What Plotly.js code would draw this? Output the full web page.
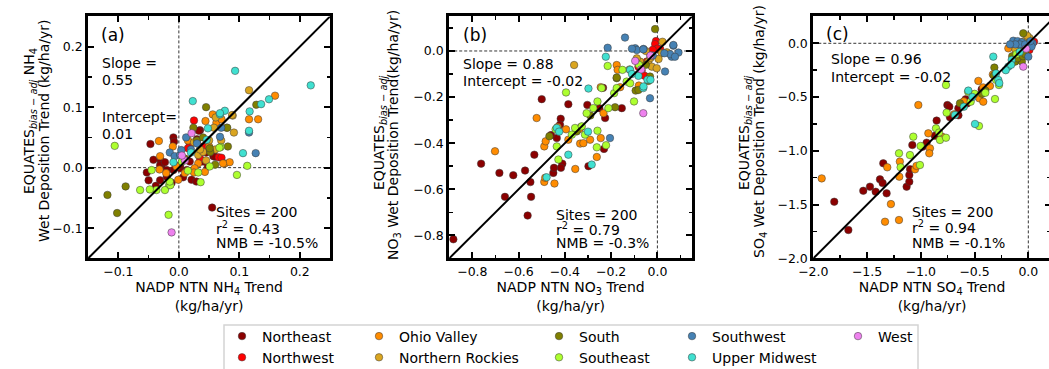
<!DOCTYPE html>
<html><head><meta charset="utf-8">
<script src="https://cdn.plot.ly/plotly-3.0.1.min.js"></script>
<style>html,body{margin:0;padding:0;overflow:hidden;background:#fff}#chart{width:1060px;height:369px}</style>
</head><body><div id="chart"></div>
<script>
// ---------- categories ----------
const regions = ['Northeast','Northwest','Ohio Valley','Northern Rockies','South','Southeast','Southwest','Upper Midwest','West'];
const regionColors = ['#8B0000','#FF0000','#FF8C00','#DAA520','#808000','#ADFF2F','#4682B4','#40E0D0','#EE82EE'];
const legendColumns = ['legend','legend','legend2','legend2','legend3','legend3','legend4','legend4','legend5'];

// ---------- (a) NH4: [NADP NTN trend, EQUATES trend] ----------
const nh4Northeast = [[-0.047,0.039],[-0.009,0.050],[-0.008,0.043],[-0.053,-0.008],[-0.050,-0.021],[-0.031,-0.021],[-0.020,-0.015],[-0.030,0.012],[-0.029,0.002],[-0.009,-0.004],[0.002,-0.001],[0.021,-0.020],[0.029,-0.023],[0.007,-0.016],[0.035,0.062],[0.033,0.061],[0.030,0.047],[0.057,0.019],[0.060,0.018],[0.055,-0.066],[-0.042,0.013],[-0.031,0.004],[-0.023,0.009],[0.018,0.010],[0.013,-0.004],[0.002,0.004],[-0.020,-0.004],[0.040,0.010],[0.045,0.025],[-0.012,-0.025],[0.048,0.002],[-0.038,-0.030],[0.020,0.040]];
const nh4Northwest = [[0.025,0.078],[0.066,0.017],[0.018,0.040],[0.015,0.032],[0.0705,0.0165],[0.040,0.035],[0.035,0.015]];
const nh4OhioValley = [[-0.033,0.044],[-0.031,0.019],[-0.004,0.002],[-0.021,-0.009],[0.010,-0.009],[0.044,0.077],[0.062,0.074],[0.056,0.088],[0.0705,0.080],[0.116,0.080],[0.131,0.080],[0.159,0.119],[0.076,0.007],[0.084,0.009],[0.073,0.007],[0.032,0.007],[0.026,-0.001],[0.043,-0.007],[-0.001,-0.020],[0.050,0.035],[-0.010,0.035],[0.015,0.045],[0.025,-0.008],[-0.032,-0.003]];
const nh4NorthernRockies = [[0.116,0.128],[0.061,0.083],[0.089,0.086],[0.091,0.058],[0.058,0.066],[0.079,0.066],[0.032,0.021],[0.040,0.026],[0.050,0.045],[0.035,0.030],[0.060,0.030],[0.025,0.042],[0.045,0.012],[0.070,0.045],[0.088,0.087]];
const nh4South = [[-0.118,-0.045],[-0.088,-0.031],[-0.102,-0.075],[0.128,0.104],[0.045,0.100],[0.024,0.066],[0.080,0.066],[0.081,0.035],[0.052,0.026],[0.051,0.032],[0.030,0.045],[0.010,0.015],[0.060,0.005],[0.040,0.050]];
const nh4Southeast = [[-0.106,0.036],[0.113,0.003],[0.096,-0.012],[-0.017,-0.078],[0.069,0.034],[0.051,0.002],[0.036,-0.024],[-0.016,-0.029],[-0.023,-0.037],[-0.037,-0.037],[-0.048,-0.036],[-0.045,-0.004],[-0.064,-0.037],[0.032,-0.008],[-0.014,-0.029],[-0.015,-0.023],[0.005,0.010],[0.067,0.033],[0.015,-0.005]];
const nh4Southwest = [[0.127,0.024],[0.116,0.058],[0.012,0.050],[-0.015,0.025],[-0.007,0.019],[0.070,0.066],[0.068,0.051],[0.002,0.021],[0.004,0.029],[0.030,0.040],[0.020,0.030]];
const nh4UpperMidwest = [[0.093,0.160],[0.218,0.136],[0.149,0.113],[0.136,0.105],[0.117,0.093],[0.116,0.061],[0.106,0.024],[0.023,0.110],[0.068,0.088],[0.076,0.094],[0.048,0.065],[-0.009,0.009],[0.046,0.046],[0.020,0.025],[0.068,0.090]];
const nh4West = [[-0.012,-0.107],[0.021,0.057],[0.010,0.012],[0.005,0.020]];

// ---------- (b) NO3 ----------
const no3Northeast = [[-0.882,-0.817],[-0.762,-0.489],[-0.683,-0.529],[-0.659,-0.633],[-0.623,-0.539],[-0.572,-0.519],[-0.561,-0.714],[-0.549,-0.569],[-0.546,-0.633],[-0.532,-0.450],[-0.500,-0.209],[-0.450,-0.529],[-0.447,-0.507],[-0.435,-0.378],[-0.411,-0.489],[-0.417,-0.507],[-0.418,-0.294],[-0.421,-0.320],[-0.385,-0.231],[-0.303,-0.234],[-0.298,-0.500],[-0.251,-0.248],[-0.231,-0.425],[-0.226,-0.291],[-0.154,-0.248],[-0.235,-0.160],[-0.460,-0.365],[-0.330,-0.330]];
const no3Northwest = [[-0.006,0.043],[0.012,0.009],[-0.082,-0.068],[-0.068,-0.086],[-0.056,-0.107],[-0.046,-0.046],[-0.010,0.030],[0.000,0.010],[-0.020,0.005]];
const no3OhioValley = [[-0.702,-0.435],[-0.522,-0.291],[-0.489,-0.568],[-0.485,-0.550],[-0.489,-0.414],[-0.483,-0.392],[-0.445,-0.575],[-0.431,-0.330],[-0.385,-0.385],[-0.395,-0.340],[-0.355,-0.512],[-0.337,-0.339],[-0.334,-0.402],[-0.320,-0.400],[-0.291,-0.385],[-0.262,-0.460],[-0.245,-0.378],[-0.233,-0.270],[-0.245,-0.157],[-0.161,-0.157],[-0.176,-0.061],[-0.172,-0.082],[-0.080,-0.150],[-0.030,-0.020]];
const no3NorthernRockies = [[-0.360,-0.061],[0.022,0.040],[-0.075,-0.046],[-0.039,-0.046],[-0.024,-0.068],[-0.003,-0.075],[-0.089,-0.032],[0.019,-0.010],[0.041,-0.006],[-0.120,-0.080],[-0.030,-0.030],[-0.050,0.000],[0.005,-0.035]];
const no3South = [[-0.010,0.095],[-0.467,-0.370],[-0.349,-0.349],[-0.183,-0.244],[-0.176,-0.118],[-0.094,-0.172],[-0.176,-0.115],[-0.032,-0.111],[-0.039,-0.130],[-0.082,-0.169],[-0.290,-0.280],[-0.050,-0.060]];
const no3Southeast = [[-0.435,-0.414],[-0.428,-0.471],[-0.395,-0.180],[-0.370,-0.363],[-0.356,-0.334],[-0.327,-0.327],[-0.313,-0.363],[-0.306,-0.270],[-0.277,-0.248],[-0.259,-0.219],[-0.259,-0.346],[-0.262,-0.418],[-0.222,-0.409],[-0.241,-0.161],[-0.212,-0.248],[-0.187,-0.183],[-0.176,-0.161],[-0.215,-0.065],[-0.151,-0.082],[-0.133,-0.133],[-0.118,-0.140],[-0.101,-0.219],[-0.440,-0.340],[-0.080,-0.060]];
const no3Southwest = [[-0.140,0.058],[-0.215,0.014],[0.069,0.023],[-0.096,0.012],[-0.060,0.009],[0.062,-0.025],[0.033,-0.089],[-0.032,-0.205],[-0.205,-0.378],[0.091,-0.007],[-0.089,0.004],[-0.061,0.007],[0.055,-0.014],[0.076,-0.025],[0.069,0.026],[0.030,-0.010],[-0.110,0.010],[-0.020,-0.020]];
const no3UpperMidwest = [[-0.479,-0.548],[-0.435,-0.334],[-0.425,-0.350],[-0.385,-0.450],[-0.284,-0.493],[-0.298,-0.163],[-0.223,-0.025],[-0.061,-0.161],[-0.082,-0.108],[-0.043,-0.125],[-0.030,-0.125],[-0.118,-0.082],[-0.060,-0.154],[-0.110,-0.100],[-0.300,-0.350]];
const no3West = [[-0.061,-0.270],[-0.096,-0.043],[-0.070,-0.080],[-0.030,-0.020]];

// ---------- (c) SO4 ----------
const so4Northeast = [[-1.805,-1.473],[-1.674,-1.736],[-1.535,-1.371],[-1.473,-1.333],[-1.420,-1.380],[-1.380,-1.265],[-1.355,-1.300],[-1.318,-1.395],[-1.349,-1.116],[-1.132,-1.333],[-1.107,-1.287],[-1.107,-1.225],[-1.100,-1.170],[-1.079,-0.946],[-0.983,-0.961],[-0.946,-0.924],[-0.853,-0.719],[-0.870,-0.860],[-0.753,-0.574],[-0.735,-0.589],[-0.729,-0.688],[-0.651,-0.605],[-0.650,-0.670],[-0.583,-0.521],[-0.570,-0.560],[-0.434,-0.428],[-0.050,-0.050]];
const so4Northwest = [[0.022,0.031],[0.053,0.015],[0.010,-0.062],[-0.030,-0.040],[-0.020,0.000],[0.000,-0.010]];
const so4OhioValley = [[-1.922,-1.256],[-1.333,-1.659],[-1.312,-1.153],[-1.278,-1.495],[-1.203,-1.643],[-1.200,-1.240],[-1.195,-1.100],[-1.054,-1.172],[-1.040,-1.140],[-0.915,-0.977],[-0.921,-1.023],[-0.930,-0.837],[-0.800,-0.870],[-1.023,-0.574],[-0.690,-0.660],[-0.600,-0.540],[-0.456,-0.512],[-0.419,-0.543],[-0.465,-0.350],[-0.420,-0.410],[-0.357,-0.397],[-0.330,-0.290],[-0.186,-0.047],[-0.080,-0.050]];
const so4NorthernRockies = [[-0.093,-0.031],[-0.060,-0.050],[-0.030,0.000],[0.000,-0.020],[-0.040,0.020],[-0.070,-0.010],[-0.020,-0.060],[0.020,0.010],[-0.100,0.000],[-0.050,-0.090],[-0.120,-0.060],[0.010,0.050],[-0.010,0.070]];
const so4South = [[-0.047,0.093],[-0.078,-0.155],[-0.124,-0.171],[-0.060,-0.170],[-0.100,-0.140],[-0.316,-0.226],[-0.636,-0.558],[-0.430,-0.470],[-0.400,-0.440],[-0.050,-0.120],[-0.030,-0.100],[-0.150,-0.120],[-0.320,-0.300]];
const so4Southeast = [[-1.203,-1.023],[-1.188,-1.153],[-1.008,-1.132],[-1.101,-1.039],[-1.070,-0.868],[-1.002,-0.955],[-0.859,-0.791],[-0.830,-0.830],[-0.822,-0.899],[-0.766,-0.878],[-0.760,-0.645],[-0.766,-0.388],[-0.536,-0.543],[-0.459,-0.769],[-0.500,-0.470],[-0.400,-0.460],[-0.310,-0.518],[-0.273,-0.388],[-0.300,-0.340],[-0.110,-0.100],[-0.560,-0.450]];
const so4Southwest = [[-0.140,0.024],[-0.100,0.020],[-0.060,0.010],[0.000,-0.124],[0.040,0.000],[0.030,-0.030],[-0.080,-0.010],[-0.030,-0.010],[-0.120,-0.010],[-0.170,-0.010],[0.020,0.020]];
const so4UpperMidwest = [[-0.682,-0.667],[-0.496,-0.750],[-0.558,-0.440],[-0.326,-0.124],[-0.279,-0.341],[-0.270,-0.370],[-0.186,-0.217],[-0.155,-0.155],[-0.210,-0.250],[-0.600,-0.590],[-0.520,-0.500],[-0.160,-0.200],[-0.300,-0.280],[-0.080,-0.080]];
const so4West = [[-0.047,-0.217],[-0.020,-0.050]];

// ---------- panel settings ----------
const panelLetters = ['(a)','(b)','(c)'];
const panelSpecies = ['NH<sub>4</sub>','NO<sub>3</sub>','SO<sub>4</sub>'];
const panelLimits = [[-0.15,0.25],[-0.9,0.15],[-2.0,0.25]];
const panelXLimits = [[-0.15,0.25],[-0.9,0.15],[-2.0,0.21]];
const panelMajor = [0.1,0.2,0.5];
const panelSlope = ['0.55','0.88','0.96'];
const panelIntercept = ['0.01','-0.02','-0.02'];
const panelSites = [200,200,200];
const panelR2 = ['0.43','0.79','0.94'];
const panelNMB = ['-10.5%','-0.3%','-0.1%'];
const yTitleLine1 = ['EQUATES<sub><i>bias − adj</i></sub> NH<sub>4</sub>','EQUATES<sub><i>bias − adj</i></sub>','EQUATES<sub><i>bias − adj</i></sub>'];
const yTitleLine2 = ['Wet Deposition Trend (kg/ha/yr)','NO<sub>3</sub> Wet Deposition Trend(kg/ha/yr)','SO<sub>4</sub> Wet Deposition Trend (kg/ha/yr)'];
const panelData = [
  [nh4Northeast,nh4Northwest,nh4OhioValley,nh4NorthernRockies,nh4South,nh4Southeast,nh4Southwest,nh4UpperMidwest,nh4West],
  [no3Northeast,no3Northwest,no3OhioValley,no3NorthernRockies,no3South,no3Southeast,no3Southwest,no3UpperMidwest,no3West],
  [so4Northeast,so4Northwest,so4OhioValley,so4NorthernRockies,so4South,so4Southeast,so4Southwest,so4UpperMidwest,so4West]
];

// ---------- layout geometry (pixels) ----------
const W = 1060, H = 369;
const FONT = 'DejaVu Sans, sans-serif';
const px = v => v / W, py = v => 1 - v / H;
const xDom = [[88.1,330.1],[449.2,692.1],[813.3,1050.9]];
const yDom = [16.4,258.4];

const traces = [];
const layout = {
  width: W, height: H, margin:{l:0,r:0,t:0,b:0,autoexpand:false},
  paper_bgcolor:'#fff', plot_bgcolor:'#fff',
  font:{family:FONT, size:14, color:'#000'},
  showlegend:true, shapes:[], annotations:[]
};

for (let p = 0; p < 3; p++) {
  const xa = p === 0 ? 'x' : 'x' + (p + 1), ya = p === 0 ? 'y' : 'y' + (p + 1);
  const xk = p === 0 ? 'xaxis' : 'xaxis' + (p + 1), yk = p === 0 ? 'yaxis' : 'yaxis' + (p + 1);
  const common = {
    showgrid:false, zeroline:false, showline:true, linecolor:'#000', linewidth:3, mirror:'allticks',
    ticks:'inside', ticklen:6, tickwidth:2, tickcolor:'#000', dtick:panelMajor[p], tick0:0,
    tickformat:'.1f', tickfont:{family:FONT,size:12.5,color:'#000'}, automargin:false,
    minor:{dtick:panelMajor[p]/2, ticks:'inside', ticklen:3.5, tickwidth:1.5, tickcolor:'#000', showgrid:false},
    fixedrange:true
  };
  layout[xk] = Object.assign({}, common, {
    domain:[px(xDom[p][0]), px(xDom[p][1])], range:panelXLimits[p], anchor:ya,
    title:{text:'NADP NTN ' + panelSpecies[p] + ' Trend<br>(kg/ha/yr)', font:{family:FONT,size:14}, standoff:4}
  });
  layout[yk] = Object.assign({}, common, {
    domain:[py(yDom[1]), py(yDom[0])], range:panelLimits[p], anchor:xa
  });

  // zero reference lines
  layout.shapes.push({type:'line', xref:xa, yref:ya + ' domain', x0:0, x1:0, y0:0, y1:1, layer:'below', line:{color:'#000', width:0.8, dash:'3px,2px'}});
  layout.shapes.push({type:'line', xref:xa + ' domain', yref:ya, x0:0, x1:1, y0:0, y1:0, layer:'below', line:{color:'#000', width:0.8, dash:'3px,2px'}});

  // scatter per region
  for (let r = 0; r < regions.length; r++) {
    const pts = panelData[p][r];
    traces.push({
      type:'scatter', mode:'markers', xaxis:xa, yaxis:ya, name:regions[r],
      x: pts.map(d => d[0]), y: pts.map(d => d[1]),
      marker:{size:7.5, color:regionColors[r], line:{color:'rgba(60,60,60,0.85)', width:0.6}},
      showlegend: p === 0, legend: legendColumns[r], cliponaxis:true, hoverinfo:'skip'
    });
  }
  // 1:1 line
  const lim = panelLimits[p];
  traces.push({type:'scatter', mode:'lines', xaxis:xa, yaxis:ya, x:lim, y:lim, line:{color:'#000', width:2}, showlegend:false, hoverinfo:'skip'});
}

// ---------- text annotations ----------
function note(text, x, y, size) {
  layout.annotations.push({text:text, xref:'paper', yref:'paper', x:px(x), y:py(y), xanchor:'left', yanchor:'middle', showarrow:false, font:{family:FONT, size:size || 14, color:'#000'}});
}
function vnote(text, x, y) {
  layout.annotations.push({text:text, xref:'paper', yref:'paper', x:px(x), y:py(y), xanchor:'center', yanchor:'middle', textangle:-90, showarrow:false, font:{family:FONT, size:14, color:'#000'}});
}
// y-axis titles (two lines each)
vnote(yTitleLine1[0], 30, 121); vnote(yTitleLine2[0], 44, 131);
vnote(yTitleLine1[1], 380, 133); vnote(yTitleLine2[1], 394, 135);
vnote(yTitleLine1[2], 745, 133); vnote(yTitleLine2[2], 760, 132);

note(panelLetters[0], 99, 35, 17);
note('Slope =', 100, 63); note(panelSlope[0], 100, 80);
note('Intercept=', 100, 117); note(panelIntercept[0], 100, 134);
note('Sites = ' + panelSites[0], 214, 212); note('r<sup>2</sup> = ' + panelR2[0], 214, 228); note('NMB = ' + panelNMB[0], 214, 243);

note(panelLetters[1], 461, 35, 17);
note('Slope = ' + panelSlope[1], 461, 64); note('Intercept = ' + panelIntercept[1], 461, 81);
note('Sites = ' + panelSites[1], 554, 215); note('r<sup>2</sup> = ' + panelR2[1], 554, 229); note('NMB = ' + panelNMB[1], 554, 243);

note(panelLetters[2], 824, 34, 17);
note('Slope = ' + panelSlope[2], 829, 59); note('Intercept = ' + panelIntercept[2], 829, 77);
note('Sites = ' + panelSites[2], 910, 212); note('r<sup>2</sup> = ' + panelR2[2], 910, 227); note('NMB = ' + panelNMB[2], 910, 243);

// ---------- legend (5 columns in one frame) ----------
layout.shapes.push({type:'rect', xref:'paper', yref:'paper', x0:px(224), x1:px(918), y0:py(380), y1:py(325), line:{color:'#d4d4d4', width:1.5}, fillcolor:'#fff', layer:'below'});
const colX = [244, 381, 561, 694, 860];
['legend','legend2','legend3','legend4','legend5'].forEach((k, i) => {
  layout[k] = {x:px(colX[i] - 22), y:py(320.5), xanchor:'left', yanchor:'top', orientation:'v',
    bgcolor:'rgba(0,0,0,0)', borderwidth:0, font:{family:FONT, size:14, color:'#000'}, tracegroupgap:0, itemclick:false, itemdoubleclick:false};
});

Plotly.newPlot('chart', traces, layout, {staticPlot:true, displayModeBar:false});
</script></body></html>
